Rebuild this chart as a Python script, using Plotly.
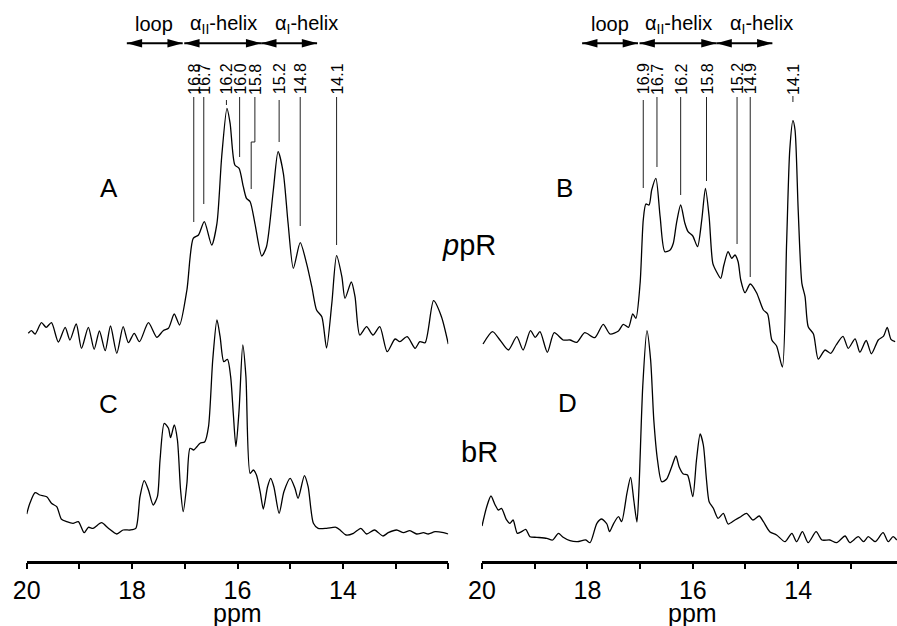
import plotly.graph_objects as go

# ---------------- data (chemical shift in ppm, intensity in arbitrary units) ----------------
ppm_A = [19.97,19.91,19.84,19.72,19.63,19.53,19.40,19.27,19.18,19.06,18.96,18.83,18.72,18.62,18.51,18.41,18.29,18.17,18.07,17.96,
         17.86,17.69,17.53,17.41,17.31,17.20,17.10,16.96,16.84,16.74,16.63,16.49,16.39,16.30,16.20,16.14,16.05,15.97,15.89,15.83,
         15.76,15.67,15.54,15.45,15.32,15.23,15.13,15.04,14.94,14.81,14.69,14.59,14.50,14.40,14.31,14.21,14.12,14.02,13.96,13.84,
         13.77,13.68,13.55,13.43,13.30,13.16,13.01,12.92,12.78,12.63,12.54,12.44,12.28,12.13,12.00]
int_A = [1.7,4.3,1,12.3,7.7,12.3,-7,7.7,-5,11,-13.3,7.7,-14.3,4,-15.7,9,-18.3,8.3,-7.7,1.7,
         -6.7,12.3,-2.3,4.3,6.7,21,10,45,96.7,100,113.3,90,111.7,178.3,226.7,211.7,170,166.7,148.3,136.7,
         133.3,111.7,79,88.3,145,183.3,161.7,111.7,66.7,92.3,71.7,48.3,25,18.3,-13,31.7,79.3,58.3,36.7,53,
         38.3,0,8.3,0,8.3,-16.7,-4,-6.7,-1.7,-13.3,-6.7,-7.7,34.3,18.3,-9]

ppm_B = [19.98,19.80,19.66,19.50,19.34,19.22,19.08,18.99,18.90,18.76,18.63,18.46,18.33,18.20,18.05,17.86,17.70,17.57,17.41,17.32,
         17.22,17.14,17.08,17.00,16.94,16.89,16.83,16.78,16.70,16.62,16.53,16.43,16.37,16.31,16.23,16.15,16.09,16.00,15.91,15.83,
         15.76,15.69,15.62,15.55,15.47,15.41,15.33,15.26,15.20,15.14,15.09,15.01,14.91,14.79,14.66,14.58,14.50,14.41,14.30,14.22,
         14.16,14.10,14.06,14.00,13.93,13.87,13.81,13.71,13.62,13.49,13.38,13.28,13.15,13.05,12.92,12.83,12.71,12.61,12.48,12.38,
         12.31,12.24,12.16]
int_B = [1,13.3,5,-5,8.3,-5,14.3,7.7,13.3,-7.3,12.3,5,5,2.7,12.3,7.3,20.7,11,14,20.7,
         17.7,31,26.7,61.7,125,141,140,155,166.7,128.3,93.3,95,101.7,121.7,140,121.7,113.3,109,98.3,125,
         156.7,128.3,81.7,73.3,66.7,80,93.3,86.7,90,83.3,65,52.3,61,52.3,35,31,5,-1,-22,101.7,
         195,224.3,215,135,61.7,48.3,18.3,11,-14,-5,-8.3,0,8.7,-3.3,6.2,-7.2,4.5,-8.8,5,8.8,
         17.7,5.7,3.3]

ppm_C = [20.00,19.94,19.84,19.75,19.62,19.53,19.43,19.34,19.24,19.12,19.02,18.91,18.83,18.74,18.58,18.45,18.29,18.17,18.04,17.93,
         17.85,17.77,17.69,17.60,17.52,17.47,17.39,17.31,17.27,17.20,17.14,17.08,17.03,16.96,16.90,16.83,16.77,16.71,16.62,16.55,
         16.47,16.39,16.33,16.26,16.19,16.13,16.08,16.03,15.97,15.90,15.84,15.76,15.70,15.64,15.57,15.51,15.43,15.37,15.31,15.21,
         15.12,15.00,14.91,14.85,14.73,14.66,14.56,14.47,14.31,14.13,14.04,13.94,13.80,13.66,13.55,13.40,13.24,13.14,12.98,12.85,
         12.73,12.60,12.47,12.38,12.25,12.09,12.00]
int_C = [21,31.7,42.3,40,38.3,31.7,28.3,15.7,13.3,11.7,13.3,2.3,7.7,6.7,12.3,6.7,1,5,5,6.7,
         38.3,54.3,45,30,38.3,75,111.7,106.7,97.3,110,95,45,23.3,51.7,86.7,85,88.3,91.7,93.3,108.3,
         175,215,198.3,173.3,175.7,158.3,121.7,88.3,125,190,158.3,61.7,65,60,43.3,26,48.3,56.7,48.3,21.7,
         43.3,56.7,46.7,36.7,59.3,48.3,11.7,6.7,6.7,7.7,4.3,0,1.7,6.7,1,5,-1,2.3,5,2.3,
         4.3,1,2.3,1,3.3,2.3,1]

ppm_D = [20.00,19.91,19.83,19.75,19.69,19.63,19.54,19.47,19.41,19.33,19.25,19.17,19.09,18.96,18.77,18.66,18.55,18.46,18.33,18.19,
         18.03,17.95,17.82,17.73,17.63,17.58,17.50,17.41,17.35,17.25,17.18,17.12,17.06,17.02,16.95,16.87,16.80,16.74,16.67,16.59,
         16.50,16.40,16.32,16.26,16.18,16.10,16.00,15.93,15.86,15.80,15.74,15.69,15.61,15.52,15.42,15.33,15.20,15.09,14.98,14.86,
         14.74,14.66,14.54,14.41,14.25,14.12,14.03,13.92,13.81,13.66,13.55,13.40,13.27,13.11,13.02,12.86,12.76,12.67,12.54,12.39,
         12.29,12.20,12.13]
int_D = [16,35.3,46,37,32,33.7,22.7,18.7,22,8.7,10.3,12.7,5.3,4.7,3.7,2,8.7,4.7,1.3,0.3,
         2,-0.7,18.7,23,18,10.3,18.7,25.3,20.3,48.7,64.7,42,20,55.3,155.3,211.3,182,122,82,60.3,
         62.7,75.3,86,75.3,68,67,45.3,82,108,97,62,40.3,33.7,23.7,28.7,18,22,25.3,28.7,22,
         26,20.3,10.3,7,0.3,8.7,0.3,10.3,-0.7,10.3,2,2,-0.7,6,-0.7,5.3,0.3,5.3,0.3,9.3,
         0.3,5.3,2]

# peak assignment markers (ppR)
marker_text_A = ["16.8", "16.7", "16.2", "16.0", "15.8", "15.2", "14.8", "14.1"]
marker_ppm_A = [16.83, 16.64, 16.21, 15.96, 15.67, 15.21, 14.81, 14.12]
marker_top_A = [238, 238, 235, 238, 238, 235, 238, 238]
marker_bottom_A = [113, 131, 230, 178, 146, 193, 109, 90]
kink_A = {"index": 4, "ppm": 15.74, "level": 193}   # 15.8 line jogs sideways

marker_text_B = ["16.9", "16.7", "16.2", "15.8", "15.2", "14.9", "14.1"]
marker_ppm_B = [16.94, 16.68, 16.23, 15.74, 15.16, 14.91, 14.10]
marker_top_B = [245, 248, 248, 248, 248, 248, 249]
marker_bottom_B = [157, 178, 150, 164, 101, 68, 243]

# structural regions (double arrows)
region_names = ["loop", "α<sub>II</sub>-helix", "α<sub>I</sub>-helix"]
region_label_ppm = [17.58, 16.27, 14.70]
region_bounds = [(18.10, 17.04), (17.01, 15.55), (15.55, 14.49)]

major_ticks = [20, 18, 16, 14]
minor_ticks = [19, 17, 15, 13, 12]

# ---------------- figure ----------------
FONT = "Liberation Sans, Arial, Helvetica, sans-serif"
W, H = 897, 626

fig = go.Figure()
line_style = dict(color="black", width=1.3, shape="spline", smoothing=0.7)
fig.add_trace(go.Scatter(x=ppm_A, y=int_A, xaxis="x", yaxis="y", mode="lines", line=line_style, hoverinfo="skip"))
fig.add_trace(go.Scatter(x=ppm_B, y=int_B, xaxis="x2", yaxis="y2", mode="lines", line=line_style, hoverinfo="skip"))
fig.add_trace(go.Scatter(x=ppm_C, y=int_C, xaxis="x", yaxis="y3", mode="lines", line=line_style, hoverinfo="skip"))
fig.add_trace(go.Scatter(x=ppm_D, y=int_D, xaxis="x2", yaxis="y4", mode="lines", line=line_style, hoverinfo="skip"))

axis_y = 1 - 561.5 / H
xcommon = dict(anchor="free", position=axis_y, showline=True, linewidth=2.5, linecolor="black",
               ticks="outside", ticklen=6, tickwidth=2, tickcolor="black",
               tickmode="array", tickvals=major_ticks, ticktext=[str(v) for v in major_ticks],
               tickfont=dict(size=25, family=FONT, color="black"),
               minor=dict(ticks="outside", ticklen=6, tickwidth=2, tickcolor="black",
                          tickmode="array", tickvals=minor_ticks, showgrid=False),
               ticklabelstandoff=0, showgrid=False, zeroline=False, automargin=False)

def yax(base, anchor):
    return dict(domain=[0, 1], range=[base - H, base], visible=False, anchor=anchor,
                showgrid=False, zeroline=False, fixedrange=True, automargin=False)

fig.update_layout(
    template="none",
    width=W, height=H, margin=dict(l=0, r=0, t=0, b=0, pad=0, autoexpand=False),
    paper_bgcolor="white", plot_bgcolor="rgba(0,0,0,0)", showlegend=False,
    font=dict(family=FONT, color="black"),
    xaxis=dict(domain=[26.7 / W, 448.3 / W], range=[20, 12], **xcommon),
    xaxis2=dict(domain=[482 / W, 1.0], range=[20, 12.125], **xcommon),
    yaxis=yax(335, "x"),
    yaxis2=yax(345, "x2"),
    yaxis3=yax(535, "x"),
    yaxis4=yax(542, "x2"),
)

shapes = []
annotations = []
mline = dict(color="#222222", width=1)

# markers A
for i, (t, p, y0, y1) in enumerate(zip(marker_text_A, marker_ppm_A, marker_top_A, marker_bottom_A)):
    if i == kink_A["index"]:
        q, lv = kink_A["ppm"], kink_A["level"]
        shapes.append(dict(type="path", xref="x", yref="y",
                           path=f"M {p},{y0} L {p},{lv} L {q},{lv} L {q},{y1}", line=mline))
    else:
        shapes.append(dict(type="line", xref="x", yref="y", x0=p, x1=p, y0=y0, y1=y1, line=mline))
    annotations.append(dict(xref="x", yref="paper", x=p, y=1 - 79 / H, text=t, textangle=-90,
                            showarrow=False, xanchor="center", yanchor="middle", font=dict(size=16)))
# markers B
for t, p, y0, y1 in zip(marker_text_B, marker_ppm_B, marker_top_B, marker_bottom_B):
    shapes.append(dict(type="line", xref="x2", yref="y2", x0=p, x1=p, y0=y0, y1=y1, line=mline))
    annotations.append(dict(xref="x2", yref="paper", x=p, y=1 - 79 / H, text=t, textangle=-90,
                            showarrow=False, xanchor="center", yanchor="middle", font=dict(size=16)))

# region arrows and labels
arrow_y = 1 - 43.3 / H
head_len, head_half = 0.29, 4.2 / H
for xr in ["x", "x2"]:
    for name, lp, (a, b) in zip(region_names, region_label_ppm, region_bounds):
        shapes.append(dict(type="line", xref=xr, yref="paper", x0=a, x1=b, y0=arrow_y, y1=arrow_y,
                           line=dict(color="black", width=2)))
        # heads (x axis is reversed: a is the left tip, b the right tip)
        shapes.append(dict(type="path", xref=xr, yref="paper", fillcolor="black", line=dict(width=0),
                           path=f"M {a},{arrow_y} L {a - head_len},{arrow_y + head_half} L {a - head_len},{arrow_y - head_half} Z"))
        shapes.append(dict(type="path", xref=xr, yref="paper", fillcolor="black", line=dict(width=0),
                           path=f"M {b},{arrow_y} L {b + head_len},{arrow_y + head_half} L {b + head_len},{arrow_y - head_half} Z"))
        annotations.append(dict(xref=xr, yref="paper", x=lp, y=1 - 24 / H, text=name, showarrow=False,
                                xanchor="center", yanchor="middle", font=dict(size=20)))

# panel letters and sample labels
for txt, px, py, fs in [("A", 109, 188, 26), ("B", 564, 188, 26), ("C", 108, 404, 26), ("D", 567, 403, 26),
                        ("<i>p</i>pR", 469, 245, 29), ("bR", 479, 452, 29)]:
    annotations.append(dict(xref="paper", yref="paper", x=px / W, y=1 - py / H, text=txt, showarrow=False,
                            xanchor="center", yanchor="middle", font=dict(size=fs)))

# axis titles
for xr in ["x", "x2"]:
    annotations.append(dict(xref=xr, yref="paper", x=16, y=1 - 613 / H, text="ppm", showarrow=False,
                            xanchor="center", yanchor="middle", font=dict(size=25)))

fig.update_layout(shapes=shapes, annotations=annotations)
fig.write_html("out.html", config={"displayModeBar": False},
               post_script="document.body.style.margin='0px';document.body.style.overflow='hidden';")
